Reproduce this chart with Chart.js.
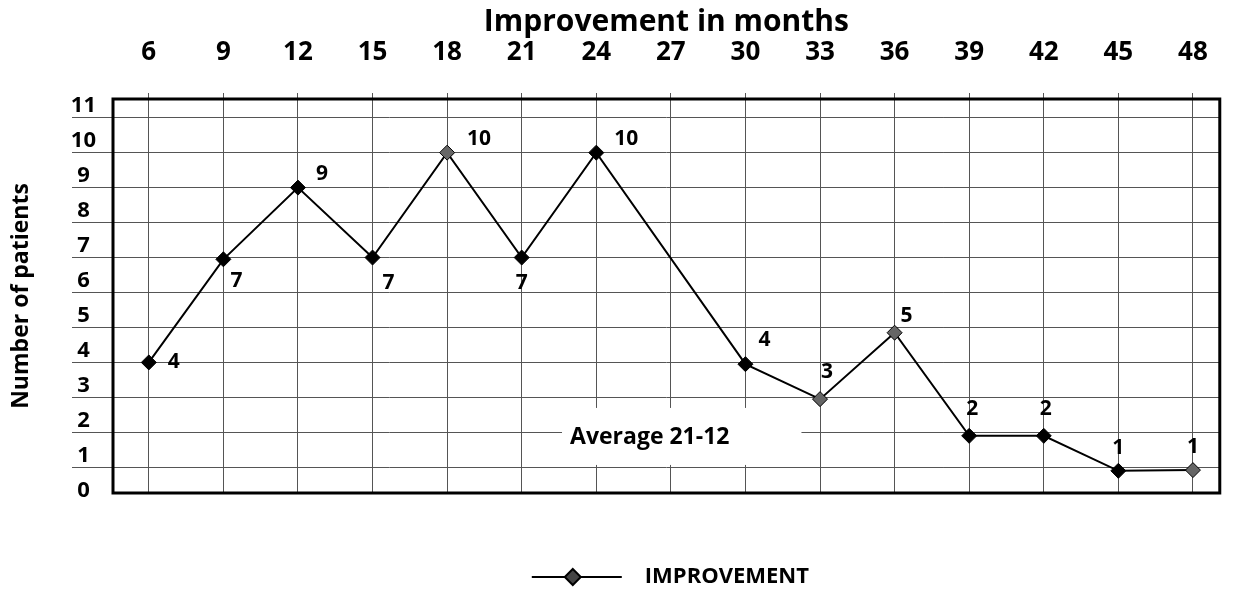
<!DOCTYPE html>
<html>
<head>
<meta charset="utf-8">
<script src="https://cdn.jsdelivr.net/npm/chart.js@4.4.0/dist/chart.umd.min.js"></script>
<style>
  html, body { margin: 0; padding: 0; background: #fff; }
  canvas { display: block; }
</style>
</head>
<body>
<canvas id="chart" width="1233" height="590"></canvas>
<script>
// values
const months = [6, 9, 12, 15, 18, 21, 24, 30, 33, 36, 39, 42, 45, 48];
const patients = [4, 6.95, 9, 7, 10, 7, 10, 3.95, 2.95, 4.85, 1.9, 1.9, 0.9, 0.92];
const monthTicks = [6, 9, 12, 15, 18, 21, 24, 27, 30, 33, 36, 39, 42, 45, 48];
const patientTicks = [0, 1, 2, 3, 4, 5, 6, 7, 8, 9, 10, 11];
const seriesName = 'IMPROVEMENT';
const note = { text: 'Average 21-12', x: 26.15, y: 1.84 };

// where each value label sits relative to its point (dx, dy)
const labelShift = [[25, 0], [13, 22], [24, -14], [16, 25], [32, -14], [0, 25], [30, -14],
                    [19, -24], [7, -27], [12, -17], [3, -27], [2, -27], [0, -23], [0, -23]];
const grayPoints = [4, 8, 9, 13];

const FONT = "'Open Sans', sans-serif";
Chart.defaults.font.family = FONT;
Chart.defaults.color = '#000';

// grid colour, the zero line sits below the frame and is not drawn
const gridColor = c => (c.tick && c.tick.value === 0 && c.scale.axis === 'y') ? 'rgba(0,0,0,0)' : '#555';

const extras = {
  id: 'extras',
  beforeDatasetsDraw(chart) {
    const { ctx, chartArea: a, scales } = chart;
    ctx.save();
    // note with white box over the grid
    ctx.font = 'bold 23px ' + FONT;
    const nx = scales.x.getPixelForValue(note.x);
    const ny = scales.y.getPixelForValue(note.y);
    const w = ctx.measureText(note.text).width;
    ctx.fillStyle = '#fff';
    ctx.fillRect(nx - w / 2 - 8, ny - 30, w + 80, 57);
    ctx.fillStyle = '#000';
    ctx.textAlign = 'center';
    ctx.textBaseline = 'middle';
    ctx.fillText(note.text, nx, ny);
    // frame
    ctx.lineWidth = 3;
    ctx.strokeStyle = '#000';
    ctx.strokeRect(a.left, a.top, a.right - a.left, a.bottom - a.top);
    ctx.restore();
  },
  afterDatasetsDraw(chart) {
    const { ctx } = chart;
    const meta = chart.getDatasetMeta(0);
    ctx.save();
    ctx.font = 'bold 21px ' + FONT;
    ctx.fillStyle = '#000';
    ctx.textAlign = 'center';
    ctx.textBaseline = 'middle';
    meta.data.forEach((pt, i) => {
      const s = labelShift[i];
      ctx.fillText(String(Math.round(patients[i])), pt.x + s[0], pt.y + s[1]);
    });
    ctx.restore();
  },
  afterDraw(chart) {
    // legend: line + diamond + name
    const { ctx, chartArea: a } = chart;
    ctx.save();
    ctx.font = 'bold 22px ' + FONT;
    const tw = ctx.measureText(seriesName).width;
    const cx = (a.left + a.right) / 2 + 4;
    const y = 577;
    const x0 = cx - (113 + tw) / 2;
    ctx.strokeStyle = '#000';
    ctx.lineWidth = 2;
    ctx.beginPath();
    ctx.moveTo(x0, y);
    ctx.lineTo(x0 + 90, y);
    ctx.stroke();
    ctx.fillStyle = '#444';
    ctx.beginPath();
    ctx.moveTo(x0 + 41, y - 8);
    ctx.lineTo(x0 + 49, y);
    ctx.lineTo(x0 + 41, y + 8);
    ctx.lineTo(x0 + 33, y);
    ctx.closePath();
    ctx.fill();
    ctx.stroke();
    ctx.fillStyle = '#000';
    ctx.textBaseline = 'middle';
    ctx.fillText(seriesName, x0 + 113, y);
    ctx.restore();
  }
};

new Chart(document.getElementById('chart'), {
  type: 'line',
  data: {
    datasets: [{
      label: seriesName,
      data: months.map((m, i) => ({ x: m, y: patients[i] })),
      borderColor: '#000',
      borderWidth: 2,
      pointStyle: 'rectRot',
      pointRadius: 7.5,
      pointBorderWidth: 1,
      pointBorderColor: '#000',
      pointBackgroundColor: months.map((m, i) => grayPoints.includes(i) ? '#666' : '#000'),
      tension: 0
    }]
  },
  options: {
    responsive: false,
    animation: false,
    devicePixelRatio: 1,
    layout: { padding: { left: 0, right: 8, top: 0, bottom: 97 } },
    plugins: { legend: { display: false }, tooltip: { enabled: false } },
    scales: {
      x: {
        type: 'linear',
        position: 'top',
        min: 4.56,
        max: 49.08,
        afterBuildTicks: s => { s.ticks = monthTicks.map(v => ({ value: v })); },
        afterFit: s => { s.height = 99; },
        border: { display: false },
        grid: { color: gridColor, lineWidth: 1, tickLength: 6 },
        ticks: { autoSkip: false, maxRotation: 0, padding: 25, font: { size: 26, weight: 'bold' } },
        title: {
          display: true,
          text: 'Improvement in months',
          font: { size: 30, weight: 'bold' },
          padding: { top: 4, bottom: 0 }
        }
      },
      y: {
        type: 'linear',
        min: 0.265,
        max: 11.535,
        afterBuildTicks: s => { s.ticks = patientTicks.map(v => ({ value: v })); },
        afterFit: s => { s.width = 113; },
        border: { display: false },
        grid: { color: gridColor, lineWidth: 1, tickLength: 41 },
        ticks: {
          autoSkip: false,
          crossAlign: 'center',
          padding: -24,
          labelOffset: -12,
          font: { size: 22, weight: 'bold' }
        },
        title: {
          display: true,
          text: 'Number of patients',
          font: { size: 23, weight: 'bold' },
          padding: { top: 8, bottom: 0 }
        }
      }
    }
  },
  plugins: [extras]
});
</script>
</body>
</html>
